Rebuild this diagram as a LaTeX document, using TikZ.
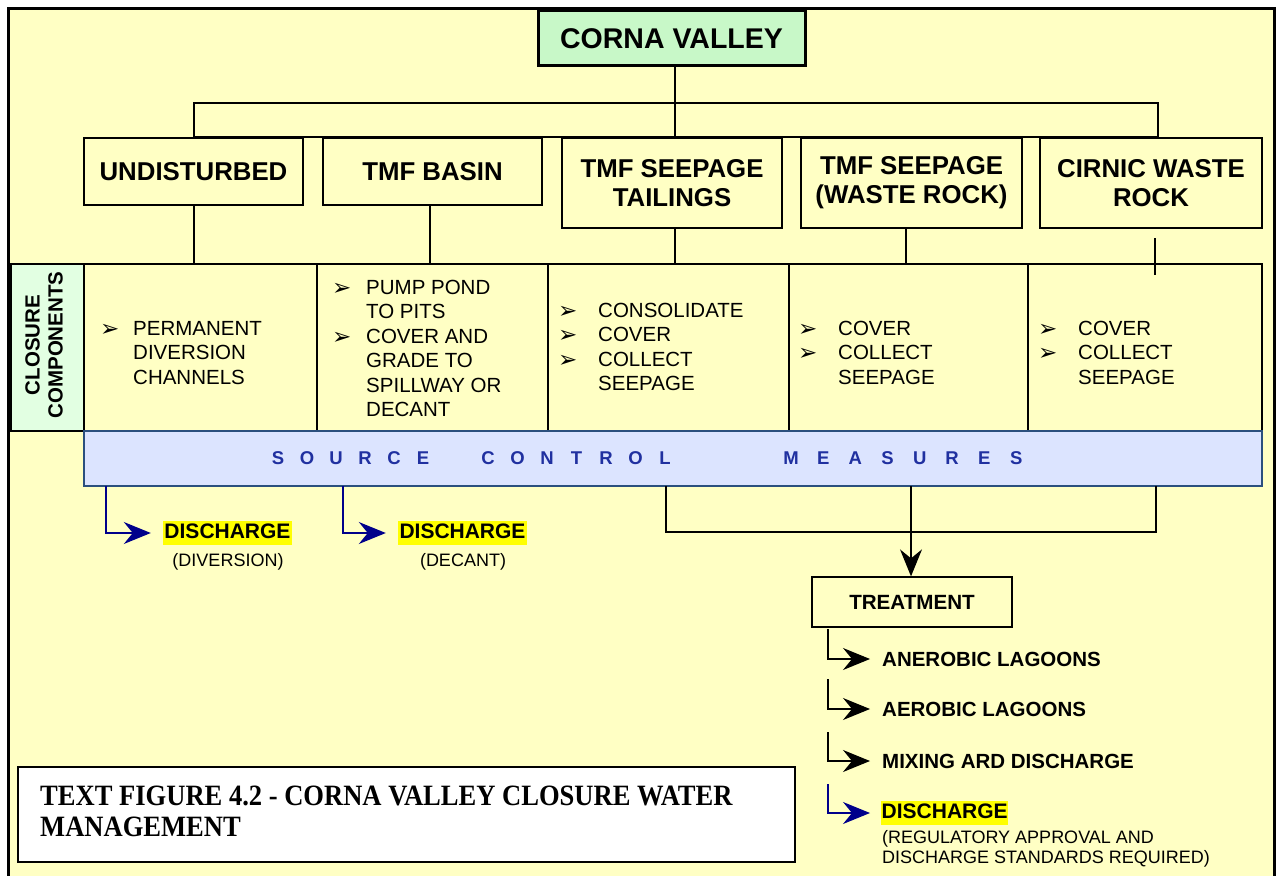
\documentclass[tikz,border=0pt]{standalone}
\usepackage{fontspec}
\setmainfont{Liberation Sans}
\newfontfamily\titlefont{Liberation Serif}
\newfontfamily\symfont{DejaVu Sans}
\usetikzlibrary{arrows.meta}

\definecolor{bgyel}{HTML}{FFFFC4}
\definecolor{cornagreen}{HTML}{C8F8C8}
\definecolor{ccgreen}{HTML}{E2FFE2}
\definecolor{barblue}{HTML}{DCE4FF}
\definecolor{barline}{HTML}{2B4F7E}
\definecolor{bartxt}{HTML}{2030A0}
\definecolor{navyline}{HTML}{00008B}
\definecolor{hilite}{HTML}{FFFF00}

% bullet of fixed width used in the component lists
\newcommand\bul[1]{\makebox[#1][l]{\raisebox{-1pt}{\symfont\fontsize{23}{23}\selectfont ➢}}}

\begin{document}
\begin{tikzpicture}[x=1pt,y=-1pt,
  topbox/.style={draw, line width=1.3pt, fill=bgyel, inner sep=0pt, align=center,
    font=\fontsize{25.8}{29}\selectfont\bfseries},
  cell/.style={draw, line width=1.3pt, inner sep=0pt},
  list/.style={anchor=base west, inner sep=0pt, font=\fontsize{20.5}{24.5}\selectfont},
  scm/.style={inner sep=0pt, text=bartxt, font=\fontsize{18.5}{20}\selectfont\bfseries},
  wire/.style={line width=1.2pt},
  tip/.style={-{Stealth[length=27pt,width=22pt,inset=9pt]}},
  navywire/.style={wire, draw=navyline, tip, color=navyline},
  hl/.style={fill=hilite, inner xsep=1.5pt, inner ysep=0pt, text height=17.5pt, text depth=6.5pt,
    font=\fontsize{21}{24}\selectfont\bfseries},
  step label/.style={anchor=west, inner sep=0pt, font=\fontsize{20.5}{24}\selectfont\bfseries},
  note/.style={anchor=base, inner sep=0pt, font=\fontsize{18}{20}\selectfont},
]
\useasboundingbox (0,0) rectangle (1279,875);
\fill[white] (0,0) rectangle (1279,875);
\filldraw[fill=bgyel, line width=3pt] (8,9) rectangle (1274,880);

% ---- head and branch boxes
\node[topbox, line width=3pt, fill=cornagreen, minimum width=267pt, minimum height=55pt,
  font=\fontsize{28.5}{32}\selectfont\bfseries] (corna) at (671.5,38.5) {CORNA VALLEY};

\coordinate (busNW) at (194,103);
\coordinate (busNE) at (1158,103);
\coordinate (busSW) at (194,137);
\coordinate (busSE) at (1158,137);
\coordinate (busMid) at (675,137);
\draw[wire] (busSW) -- (busNW) -- (busNE) -- (busSE) -- cycle;
\draw[wire] (corna.south -| busMid) -- (busMid);

\node[topbox, minimum width=219pt, minimum height=67pt] (undist) at (193.5,171.5) {UNDISTURBED};
\node[topbox, minimum width=219pt, minimum height=67pt] (basin) at (432.5,171.5) {TMF BASIN};
\node[topbox, minimum width=220pt, minimum height=90pt] (tail) at (672,183) {TMF SEEPAGE\\TAILINGS};
\node[topbox, minimum width=221pt, minimum height=90pt] (wrock) at (911.5,183) {TMF SEEPAGE\\(WASTE ROCK)};
\node[topbox, minimum width=222pt, minimum height=90pt] (cirnic) at (1151,183) {CIRNIC WASTE\\ROCK};

% ---- closure component cells
\node[cell, fill=ccgreen, minimum width=73pt, minimum height=167pt] (cc) at (47.5,347.5) {};
\node[rotate=90, align=center, inner sep=0pt, font=\fontsize{20.5}{23}\selectfont\bfseries] (cctext) at (44,345) {CLOSURE\\COMPONENTS};
\node[cell, minimum width=233pt, minimum height=167pt] (c1) at (200.5,347.5) {};
\node[cell, minimum width=231pt, minimum height=167pt] (c2) at (432.5,347.5) {};
\node[cell, minimum width=241pt, minimum height=167pt] (c3) at (668.5,347.5) {};
\node[cell, minimum width=239pt, minimum height=167pt] (c4) at (908.5,347.5) {};
\node[cell, minimum width=234pt, minimum height=167pt] (c5) at (1145,347.5) {};

\coordinate (dropA) at (194,264);
\coordinate (dropB) at (430,264);
\coordinate (dropC) at (675,264);
\coordinate (dropD) at (906,264);
\coordinate (dropEtop) at (1155,238);
\coordinate (dropE) at (1155,275);
\draw[wire] (undist.south -| dropA) -- (dropA);
\draw[wire] (basin.south -| dropB) -- (dropB);
\draw[wire] (tail.south -| dropC) -- (dropC);
\draw[wire] (wrock.south -| dropD) -- (dropD);
\draw[wire] (dropEtop) -- (dropE);

\node[list] (l1) at (100,335) {\begin{tabular}[t]{@{}l@{}l@{}}
  \bul{33pt} & PERMANENT\\ & DIVERSION\\ & CHANNELS\end{tabular}};
\node[list] (l2) at (332,294) {\begin{tabular}[t]{@{}l@{}l@{}}
  \bul{34pt} & PUMP POND\\ & TO PITS\\ \bul{34pt} & COVER AND\\ & GRADE TO\\ & SPILLWAY OR\\ & DECANT\end{tabular}};
\node[list] (l3) at (558,317) {\begin{tabular}[t]{@{}l@{}l@{}}
  \bul{40pt} & CONSOLIDATE\\ \bul{40pt} & COVER\\ \bul{40pt} & COLLECT\\ & SEEPAGE\end{tabular}};
\node[list] (l4) at (798,335) {\begin{tabular}[t]{@{}l@{}l@{}}
  \bul{40pt} & COVER\\ \bul{40pt} & COLLECT\\ & SEEPAGE\end{tabular}};
\node[list] (l5) at (1038,335) {\begin{tabular}[t]{@{}l@{}l@{}}
  \bul{40pt} & COVER\\ \bul{40pt} & COLLECT\\ & SEEPAGE\end{tabular}};

% ---- source control bar
\node[draw=barline, line width=1.6pt, fill=barblue, minimum width=1178pt, minimum height=55pt, inner sep=0pt] (bar) at (673,458.5) {};
\foreach \ch [count=\i from 0] in {S,O,U,R,C,E}
  \node[scm] (scmA\i) at ({278+29*\i},458) {\ch};
\foreach \ch [count=\i from 0] in {C,O,N,T,R,O,L}
  \node[scm] (scmB\i) at ({488+29.5*\i},458) {\ch};
\foreach \ch [count=\i from 0] in {M,E,A,S,U,R,E,S}
  \node[scm] (scmC\i) at ({791+32.2*\i},458) {\ch};

% ---- direct discharges
\node[hl] (dis1) at (227.5,533) {DISCHARGE};
\node[note] (dis1n) at (228,566.5) {(DIVERSION)};
\node[hl] (dis2) at (462.5,533) {DISCHARGE};
\node[note] (dis2n) at (463,566.5) {(DECANT)};
\coordinate (outA) at (106,486);
\coordinate (outB) at (343,486);
\draw[navywire, shorten >=12pt] (outA) |- (dis1.west);
\draw[navywire, shorten >=12pt] (outB) |- (dis2.west);

% ---- collection to treatment
\node[draw, line width=1.3pt, minimum width=200pt, minimum height=50pt, inner sep=0pt,
  font=\fontsize{20.6}{23}\selectfont\bfseries] (treat) at (912,602) {TREATMENT};
\coordinate (colL) at (666,486);
\coordinate (colR) at (1156,486);
\coordinate (colM) at (911,486);
\draw[wire] (colL) -- (666,532) -- (1156,532) -- (colR);
\draw[wire, tip] (colM) -- (colM |- treat.north);

% ---- treatment stages
\node[step label] (s1) at (882,659) {ANEROBIC LAGOONS};
\node[step label] (s2) at (882,709) {AEROBIC LAGOONS};
\node[step label] (s3) at (882,761) {MIXING ARD DISCHARGE};
\node[hl, anchor=west, inner xsep=0.5pt] (s4) at (881,813) {DISCHARGE};
\node[note, anchor=base west] (s4a) at (882,843.5) {(REGULATORY APPROVAL AND};
\node[note, anchor=base west] (s4b) at (882,863.5) {DISCHARGE STANDARDS REQUIRED)};
\coordinate (t1) at (828,629);
\coordinate (t2) at (828,679);
\coordinate (t3) at (828,732);
\coordinate (t4) at (828,784);
\draw[wire, tip, shorten >=12pt] (t1) |- (s1.west);
\draw[wire, tip, shorten >=12pt] (t2) |- (s2.west);
\draw[wire, tip, shorten >=12pt] (t3) |- (s3.west);
\draw[navywire, shorten >=11pt] (t4) |- (s4.west);

% ---- caption box
\node[draw, line width=2.2pt, fill=white, minimum width=777pt, minimum height=95pt, inner sep=0pt] (titlebox) at (406.5,814.5) {};
\node[anchor=base west, inner sep=0pt, font=\titlefont\bfseries\fontsize{29.5}{31}\selectfont] (title1) at (40,805)
  {\scalebox{0.9}[1]{TEXT FIGURE 4.2 - CORNA VALLEY CLOSURE WATER}};
\node[anchor=base west, inner sep=0pt, font=\titlefont\bfseries\fontsize{29.5}{31}\selectfont] (title2) at (40,836)
  {\scalebox{0.9}[1]{MANAGEMENT}};
\end{tikzpicture}
\end{document}
